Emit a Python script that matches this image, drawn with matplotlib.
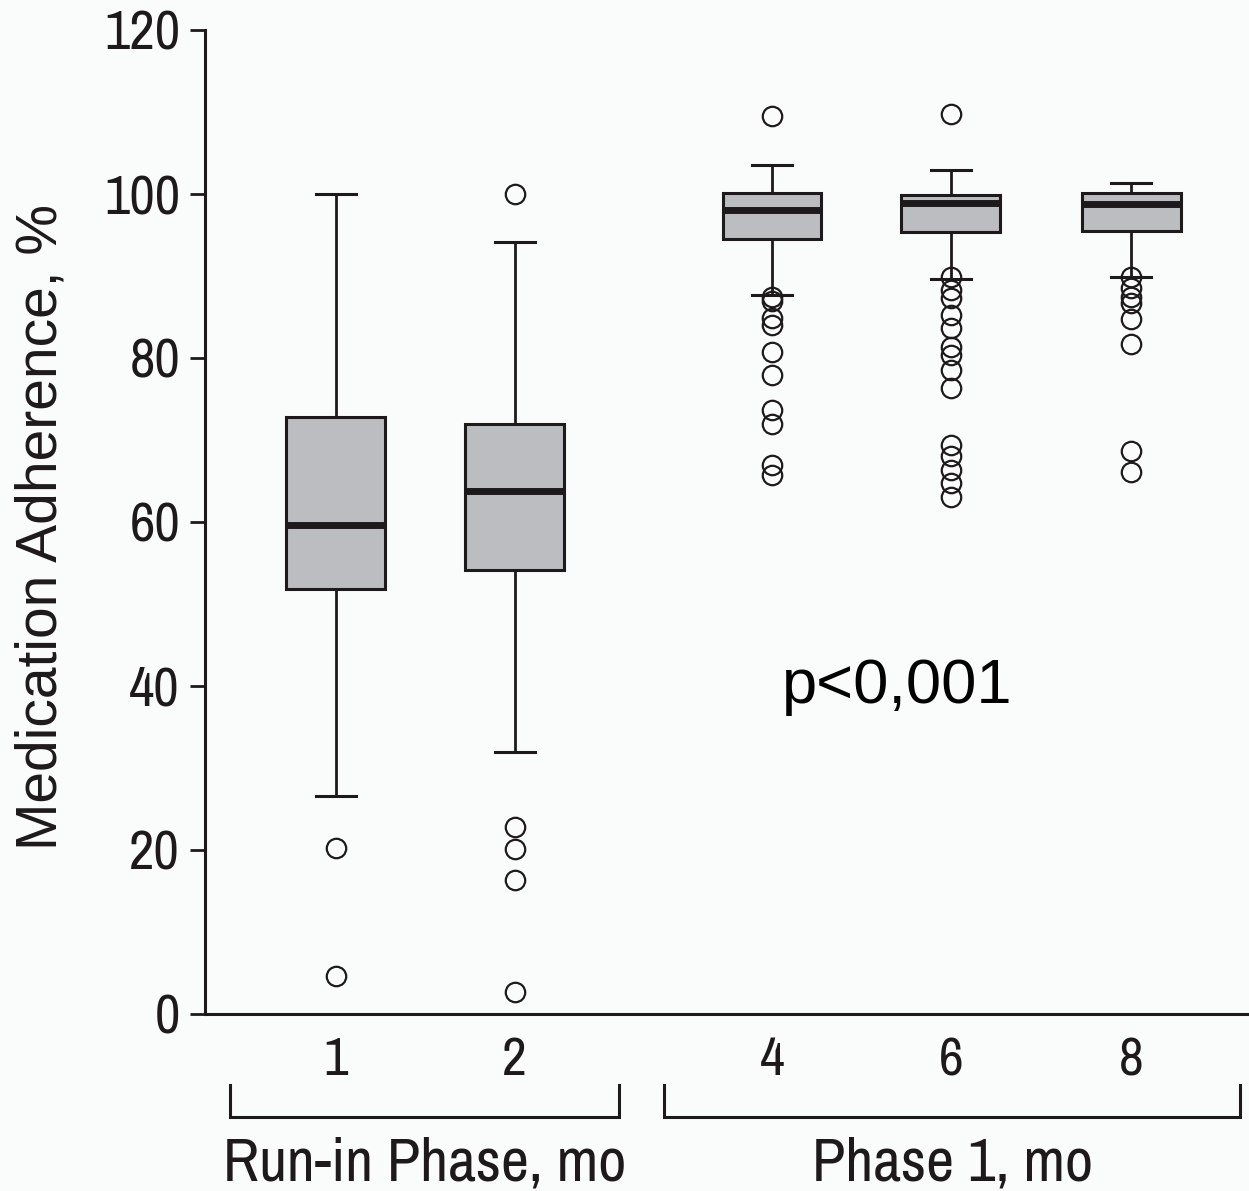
import matplotlib
matplotlib.use("Agg")
import matplotlib.pyplot as plt
from matplotlib.transforms import blended_transform_factory

# ---- data ----
months = ["1", "2", "4", "6", "8"]
whisker_low = [26.6, 31.9, 87.7, 89.6, 89.9]
q1 = [51.8, 54.1, 94.5, 95.4, 95.5]
median = [59.6, 63.8, 98.1, 98.9, 98.8]
q3 = [72.8, 71.9, 100.1, 99.9, 100.1]
whisker_high = [100.0, 94.2, 103.5, 102.9, 101.3]
outliers_1 = [20.2, 4.6]
outliers_2 = [100.0, 22.8, 20.1, 16.4, 2.7]
outliers_4 = [109.5, 87.5, 87.0, 84.9, 84.0, 80.7, 77.9, 73.7, 72.0, 67.0, 65.7]
outliers_6 = [109.8, 89.9, 88.3, 87.3, 85.2, 83.7, 81.4, 80.4, 78.5, 76.3,
              69.4, 68.0, 66.3, 64.8, 63.1]
outliers_8 = [89.9, 88.5, 87.5, 86.7, 84.8, 81.7, 68.6, 66.1]
outliers = [outliers_1, outliers_2, outliers_4, outliers_6, outliers_8]
y_ticks = [0, 20, 40, 60, 80, 100, 120]
group_labels = ["Run-in Phase, mo", "Phase 1, mo"]
p_text = "p<0,001"

# ---- layout ----
positions = [1, 2, 3.44, 4.44, 5.45]
bg = "#fafcfb"
ink = "#1e1a1b"
box_fill = "#bcbdc1"
narrow = ["Archivo Narrow", "DejaVu Sans"]
regular = ["Liberation Sans", "DejaVu Sans"]

fig = plt.figure(figsize=(12.49, 11.91), dpi=100, facecolor=bg)
ax = fig.add_axes([205 / 1249, 1 - 1014 / 1191, 1 - 205 / 1249, 984 / 1191])
ax.set_facecolor(bg)

stats = []
for i in range(len(months)):
    stats.append(dict(med=median[i], q1=q1[i], q3=q3[i],
                      whislo=whisker_low[i], whishi=whisker_high[i],
                      fliers=outliers[i], label=months[i]))

ax.bxp(stats, positions=positions, widths=0.553, capwidths=0.223,
       patch_artist=True, showfliers=True,
       boxprops=dict(facecolor=box_fill, edgecolor=ink, linewidth=2.2),
       medianprops=dict(color=ink, linewidth=5.0, solid_capstyle="butt"),
       whiskerprops=dict(color=ink, linewidth=2.0),
       capprops=dict(color=ink, linewidth=2.2),
       flierprops=dict(marker="o", markersize=14, markerfacecolor="none",
                       markeredgecolor=ink, markeredgewidth=1.6))

ax.set_xlim(0.268, 6.109)
ax.set_ylim(0, 120)
ax.set_yticks(y_ticks)
ax.set_yticklabels([str(t) for t in y_ticks], family=narrow, fontsize=40,
                   color=ink)
ax.set_xticks(positions)
ax.set_xticklabels(months, family=narrow, fontsize=39, color=ink)
ax.tick_params(axis="x", length=0, pad=16)
ax.tick_params(axis="y", length=11, width=2.0, pad=7, color=ink)

for s in ["top", "right"]:
    ax.spines[s].set_visible(False)
for s in ["left", "bottom"]:
    ax.spines[s].set_linewidth(2.2)
    ax.spines[s].set_color(ink)

# y label
fig.text(42 / 1249, 1 - 527 / 1191, "Medication Adherence, %", rotation=90,
         ha="center", va="center", family=regular, fontsize=41, color=ink)

# group brackets
tr = blended_transform_factory(ax.transData, ax.transAxes)
brackets = [(0.408, 2.587), (2.837, 6.06)]
y_top, y_bot = -0.0722, -0.1047
for (x0, x1), lab in zip(brackets, group_labels):
    ax.plot([x0, x0, x1, x1], [y_top, y_bot, y_bot, y_top], transform=tr,
            color=ink, linewidth=2.2, clip_on=False, solid_joinstyle="miter")
    ax.text((x0 + x1) / 2, -0.152, lab, transform=tr, ha="center",
            va="center", family=narrow, fontsize=44, color=ink)

# p value
ax.text(4.14, 39.9, p_text, ha="center", va="center",
        family=regular, fontsize=45.5, color="black")

fig.savefig("out.png", dpi=100, facecolor=bg)
